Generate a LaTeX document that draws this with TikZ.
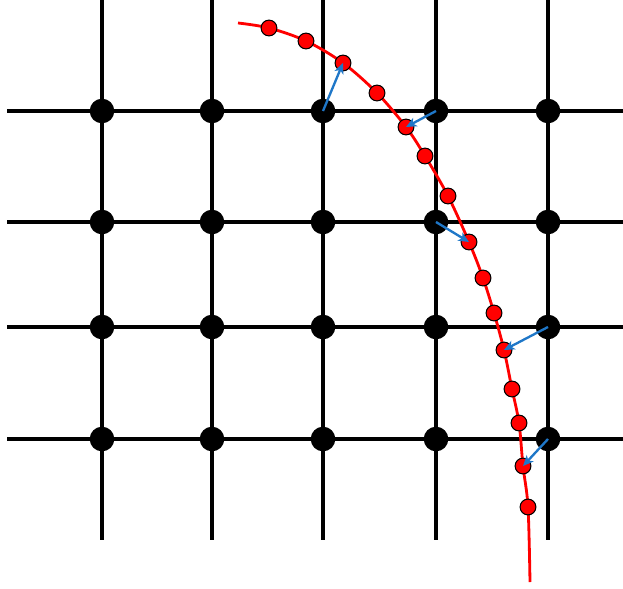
\documentclass[tikz,border=0pt]{standalone}
\usetikzlibrary{arrows.meta}
\definecolor{arrblue}{RGB}{31,119,200}

\begin{document}
\begin{tikzpicture}[x=0.03cm, y=-0.03cm,
  gridline/.style={line width=2.9pt, black},
  site/.style={circle, fill=black, inner sep=0pt, minimum size=21pt},
  sample/.style={circle, draw=black, fill=red, line width=0.9pt, inner sep=0pt, minimum size=13.5pt},
  curve/.style={red, line width=2.4pt},
  disp/.style={-{Stealth[length=9pt,width=8pt,inset=2.5pt]}, draw=arrblue, line width=2pt},
]
\useasboundingbox (0,0) rectangle (623,588);
% lattice
\foreach \x in {102,212,323,436,548}
  \draw[gridline] (\x,0) -- (\x,540);
\foreach \y in {111,222,327,439}
  \draw[gridline] (7,\y) -- (623,\y);
\foreach \x [count=\i] in {102,212,323,436,548}
  \foreach \y [count=\j] in {111,222,327,439}
    \node[site] (g-\i-\j) at (\x,\y) {};
% interface
\draw[curve] plot[smooth, tension=0.55] coordinates {(238,23) (269,28) (306,41) (343,63) (377,93) (406,127) (425,156) (448,196) (469,242) (483,278) (494,313) (504,350) (512,389) (519,423) (523,466) (528,507) (530,582)};
\foreach \p [count=\k] in {(269,28),(306,41),(343,63),(377,93),(406,127),(425,156),(448,196),(469,242),(483,278),(494,313),(504,350),(512,389),(519,423),(523,466),(528,507)}
  \node[sample] (p\k) at \p {};
% closest points
\draw[disp] (g-3-1.center) -- (p3.center);
\draw[disp] (g-4-1.center) -- (p5.center);
\draw[disp] (g-4-2.center) -- (p8.center);
\draw[disp] (g-5-3.center) -- (p11.center);
\draw[disp] (g-5-4.center) -- (p14.center);
\end{tikzpicture}
\end{document}
